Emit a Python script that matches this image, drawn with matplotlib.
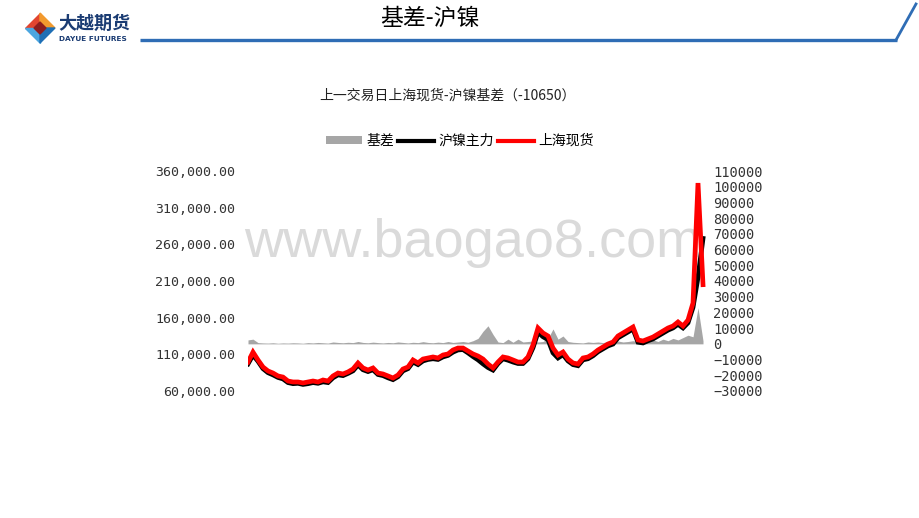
import numpy as np
import matplotlib
matplotlib.use("Agg")
import matplotlib.pyplot as plt
from matplotlib.patches import Polygon, Patch
from matplotlib.lines import Line2D
from matplotlib.ticker import FuncFormatter

plt.rcParams['font.family'] = ['Noto Sans CJK SC', 'DejaVu Sans']

# ---------------- data ----------------
spot = [
    99500, 113000, 102300, 92700, 87300, 84500, 80500, 79000, 73600, 72300,
    72300, 71000, 72300, 73600, 72300, 75000, 73600, 80500, 84500, 83200,
    86000, 90000, 98200, 91400, 88600, 91400, 84500, 83200, 80500, 77700,
    81800, 90000, 92700, 102300, 98200, 103600, 105000, 106400, 105000, 109100,
    110500, 115900, 118600, 118600, 114500, 110500, 107700, 103600, 96800, 91400,
    99500, 106400, 105000, 102300, 99500, 99500, 106400, 122700, 145900, 139100,
    135000, 118600, 109100, 113200, 103600, 98200, 96800, 105000, 106400, 110500,
    115900, 120000, 124100, 126800, 135000, 139100, 143200, 147300, 129550, 128200,
    130900, 133600, 137700, 141800, 145900, 148600, 154100, 148600, 156800, 180000,
    343600, 205000,
]
futures = [
    97000, 109000, 100500, 90500, 85000, 82000, 78500, 76500, 71500, 70000,
    70500, 69000, 70000, 71500, 70500, 72500, 71500, 78000, 82000, 81000,
    84000, 87500, 95500, 89000, 86500, 89000, 82500, 81000, 78000, 75500,
    79500, 87500, 90500, 99500, 96000, 101000, 103000, 104000, 103000, 106500,
    108500, 113000, 116000, 116500, 112000, 107000, 102500, 97000, 92000, 88500,
    97500, 104000, 102000, 99500, 97500, 97500, 104000, 119000, 140000, 134000,
    130000, 112000, 105000, 109500, 101000, 96000, 94500, 102500, 104000, 108000,
    113500, 117500, 121500, 124000, 132500, 136500, 140500, 144500, 126500, 125500,
    128500, 131000, 135000, 139000, 143000, 146000, 151000, 146000, 153000, 174000,
    215000, 268000,
]
basis = [
    2500, 3000, 800, 600, 500, 700, 400, 600, 500, 700,
    600, 400, 800, 600, 900, 700, 500, 1200, 900, 700,
    1000, 800, 1500, 900, 700, 1100, 800, 600, 900, 700,
    1200, 900, 600, 1000, 800, 1400, 900, 700, 1100, 800,
    1500, 900, 1200, 1500, 1000, 2000, 3500, 8000, 11500, 6000,
    1200, 800, 3000, 1000, 3000, 1200, 1500, 1800, 1200, 1500,
    3500, 9500, 3000, 5000, 1500, 1000, 800, 600, 1200, 900,
    1200, 800, 1500, 1000, 1800, 1200, 1500, 2000, 1500, 1200,
    1800, 2500, 1500, 3000, 2000, 3500, 2500, 4000, 5500, 4500,
    23000, 2000,
]
left_ticks = [60000, 110000, 160000, 210000, 260000, 310000, 360000]
right_ticks = list(range(-30000, 110001, 10000))
legend_labels = ['基差', '沪镍主力', '上海现货']
chart_title = '上一交易日上海现货-沪镍基差（-10650）'
page_title = '基差-沪镍'

# ---------------- figure ----------------
W, H = 920, 518
fig = plt.figure(figsize=(W / 100, H / 100), dpi=100)
fig.patch.set_facecolor('white')

# overlay in pixel coordinates for page decorations
ov = fig.add_axes([0, 0, 1, 1], zorder=-1)
ov.set_xlim(0, W)
ov.set_ylim(H, 0)
ov.axis('off')

# header line
ov.plot([140, 897], [40, 40], color='#2f6db5', lw=2.4, solid_capstyle='butt')
ov.plot([896, 916], [40, 4], color='#2f6db5', lw=2.0)

# logo
cx, cy, r = 40, 28, 15
ov.add_patch(Polygon([[cx, cy - r], [cx, cy], [cx - r, cy]], closed=True, color='#e2452f'))
ov.add_patch(Polygon([[cx, cy - r], [cx + r, cy], [cx, cy]], closed=True, color='#f29a2e'))
ov.add_patch(Polygon([[cx - r, cy], [cx, cy], [cx, cy + r]], closed=True, color='#4ba6e0'))
ov.add_patch(Polygon([[cx, cy], [cx + r, cy], [cx, cy + r]], closed=True, color='#1f6fb5'))
ov.add_patch(Polygon([[cx, cy - 6], [cx + 6, cy], [cx, cy + 6], [cx - 6, cy]], closed=True, color='#8e1d1d'))
ov.text(58, 23, '大越期货', fontsize=13, fontweight='bold', color='#1b3c73', va='center', ha='left')
ov.text(59, 39, 'DAYUE FUTURES', fontsize=5.3, fontweight='bold', color='#1b3c73', va='center', ha='left',
        family=['DejaVu Sans'])

ov.text(430, 18, page_title, fontsize=16.5, ha='center', va='center', color='black')

# watermark
ov.text(244, 243, 'www.baogao8.com', fontsize=39, color='#dadada', ha='left', va='center',
        family=['Liberation Sans'])

# chart title
fig.text(447 / W, 1 - 96 / H, chart_title, fontsize=10, ha='center', va='center', color='#222222')

# main axes
left, right, top, bottom = 248, 706, 171, 391
ax = fig.add_axes([left / W, 1 - bottom / H, (right - left) / W, (bottom - top) / H])
ax2 = ax.twinx()
ax.set_zorder(ax2.get_zorder() + 1)
ax.patch.set_visible(False)
ax2.patch.set_visible(False)

x = np.arange(len(spot))
ax2.fill_between(x, 0, basis, color='#a6a6a6', lw=0)
ax.plot(x, futures, color='black', lw=3.4, solid_joinstyle='miter')
ax.plot(x, spot, color='#ff0000', lw=3.4, solid_joinstyle='miter')

ax.set_xlim(0, len(spot) - 0.4)
ax.set_ylim(min(left_ticks), max(left_ticks))
ax2.set_ylim(min(right_ticks), max(right_ticks))
ax.set_yticks(left_ticks)
ax2.set_yticks(right_ticks)
ax.set_xticks([])
ax.yaxis.set_major_formatter(FuncFormatter(lambda v, p: f"{v:,.2f}"))
ax2.yaxis.set_major_formatter(FuncFormatter(lambda v, p: f"{v:.0f}".replace('-', '\u2212')))

for a in (ax, ax2):
    for s in a.spines.values():
        s.set_visible(False)
    a.tick_params(length=0)
ax.tick_params(axis='y', pad=9)
ax2.tick_params(axis='y', pad=5)
for lab in ax.get_yticklabels():
    lab.set_family(['DejaVu Sans Mono'])
    lab.set_fontsize(9.5)
    lab.set_color('#333333')
for lab in ax2.get_yticklabels():
    lab.set_family(['DejaVu Sans Mono'])
    lab.set_fontsize(9.8)
    lab.set_color('#333333')

# legend
handles = [
    Patch(facecolor='#a6a6a6', edgecolor='none'),
    Line2D([], [], color='black', lw=3),
    Line2D([], [], color='#ff0000', lw=3),
]
fig.legend(handles, legend_labels, loc='center', bbox_to_anchor=(460 / W, 1 - 141 / H),
           ncol=3, frameon=False, fontsize=10, handlelength=2.6, handleheight=0.5,
           handletextpad=0.3, columnspacing=0.3, borderaxespad=0)

fig.savefig('out.png', dpi=100)
